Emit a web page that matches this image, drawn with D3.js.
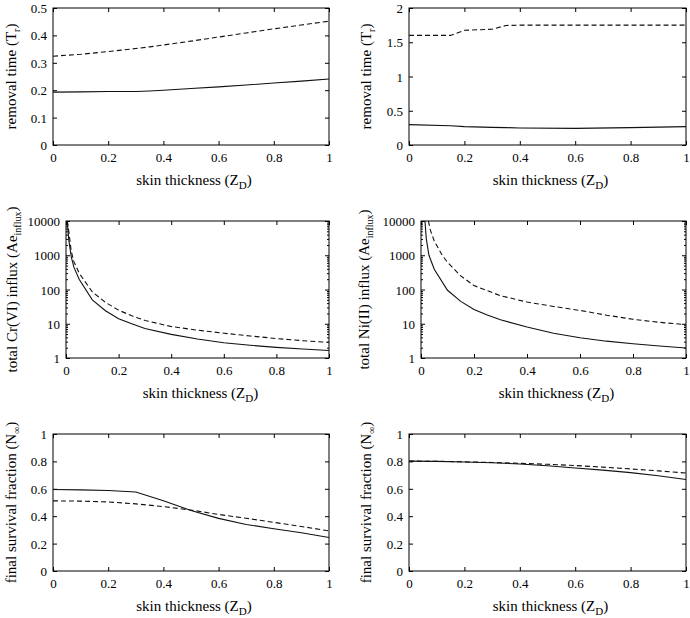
<!DOCTYPE html>
<html>
<head>
<meta charset="utf-8">
<script src="https://cdn.jsdelivr.net/npm/d3@7"></script>
<style>
  body { margin: 0; background: #fff; }
  svg { font-family: "Liberation Serif", "Times New Roman", serif; }
  .line { fill: none; stroke: #111; stroke-width: 1.1; }
  .dashed { stroke-dasharray: 5,3; }
  .tick line { stroke: #000; }
  .tick text { font-family: "Liberation Serif", "Times New Roman", serif; font-size: 13px; fill: #000; }
  .title { font-family: "Liberation Serif", "Times New Roman", serif; font-size: 15px; fill: #000; }
</style>
</head>
<body>
<div id="chart"></div>
<script>
// x positions (skin thickness Z_D)
var zLin = [0, 0.1, 0.2, 0.3, 0.35, 0.4, 0.5, 0.6, 0.7, 0.8, 0.9, 1];
var zStep = [0, 0.15, 0.2, 0.3, 0.35, 0.4, 0.6, 0.8, 1];
var zSurv = [0, 0.1, 0.2, 0.3, 0.4, 0.5, 0.6, 0.7, 0.8, 0.9, 1];
var zCrLog = [0.005, 0.01, 0.02, 0.03, 0.05, 0.1, 0.15, 0.2, 0.25, 0.3, 0.4, 0.5, 0.6, 0.7, 0.8, 0.9, 1];
var zNiSolid = [0.015, 0.02, 0.03, 0.05, 0.1, 0.15, 0.2, 0.25, 0.3, 0.4, 0.5, 0.6, 0.7, 0.8, 0.9, 1];
var zNiDashed = [0.028, 0.035, 0.05, 0.08, 0.1, 0.15, 0.2, 0.3, 0.4, 0.5, 0.6, 0.7, 0.8, 0.9, 1];

// removal time, Cr(VI)
var removalCrSolid = [0.193, 0.194, 0.195, 0.195, 0.197, 0.200, 0.206, 0.212, 0.219, 0.226, 0.233, 0.241];
var removalCrDashed = [0.324, 0.331, 0.341, 0.352, 0.358, 0.365, 0.379, 0.394, 0.409, 0.424, 0.438, 0.452];
// removal time, Ni(II)
var removalNiSolid = [0.297, 0.280, 0.268, 0.258, 0.254, 0.249, 0.243, 0.253, 0.268];
var removalNiDashed = [1.60, 1.60, 1.675, 1.69, 1.745, 1.75, 1.75, 1.75, 1.75];

// total influx (log scale)
var influxCrSolid = [10000, 3000, 900, 450, 200, 50, 24, 14, 10, 7.3, 4.9, 3.6, 2.8, 2.35, 2.04, 1.83, 1.66];
var influxCrDashed = [10000, 5500, 1300, 650, 300, 85, 42, 25, 17, 12.5, 8.3, 6.5, 5.3, 4.4, 3.7, 3.2, 2.85];
var influxNiSolid = [10000, 3000, 1000, 390, 95, 45, 26, 18, 13, 8, 5.3, 3.9, 3.1, 2.6, 2.25, 1.95];
var influxNiDashed = [10000, 5500, 2600, 1000, 620, 250, 130, 66, 43, 32, 24.5, 17.8, 13.5, 11, 9.4];

// final survival fraction
var survCrSolid = [0.595, 0.592, 0.588, 0.577, 0.513, 0.442, 0.384, 0.340, 0.308, 0.279, 0.245];
var survCrDashed = [0.512, 0.510, 0.504, 0.490, 0.470, 0.445, 0.413, 0.385, 0.355, 0.325, 0.293];
var survNiSolid = [0.802, 0.800, 0.796, 0.790, 0.781, 0.768, 0.752, 0.736, 0.718, 0.695, 0.668];
var survNiDashed = [0.802, 0.801, 0.797, 0.792, 0.786, 0.779, 0.770, 0.758, 0.745, 0.731, 0.715];

// tick values
var xTicks = [0, 0.2, 0.4, 0.6, 0.8, 1];
var removalCrTicks = [0, 0.1, 0.2, 0.3, 0.4, 0.5];
var removalNiTicks = [0, 0.5, 1, 1.5, 2];
var influxTicks = [1, 10, 100, 1000, 10000];
var survTicks = [0, 0.2, 0.4, 0.6, 0.8, 1];

var svg = d3.select("#chart").append("svg")
    .attr("width", 690)
    .attr("height", 618);

var panels = [
    {left: 53, right: 329, top: 8, bottom: 145, titleX: 16, yDomain: [0, 0.5], yTicks: removalCrTicks, log: false,
     ylabel: ["removal time (T", "r", ")"],
     series: [{x: zLin, y: removalCrSolid, dash: false}, {x: zLin, y: removalCrDashed, dash: true}]},
    {left: 409, right: 686, top: 8, bottom: 145, titleX: 371, yDomain: [0, 2], yTicks: removalNiTicks, log: false,
     ylabel: ["removal time (T", "r", ")"],
     series: [{x: zStep, y: removalNiSolid, dash: false}, {x: zStep, y: removalNiDashed, dash: true}]},
    {left: 66, right: 329, top: 221, bottom: 358, titleX: 17, yDomain: [1, 10000], yTicks: influxTicks, log: true,
     ylabel: ["total Cr(VI) influx (Ae", "influx", ")"],
     series: [{x: zCrLog, y: influxCrSolid, dash: false}, {x: zCrLog, y: influxCrDashed, dash: true}]},
    {left: 421, right: 686, top: 221, bottom: 358, titleX: 369, yDomain: [1, 10000], yTicks: influxTicks, log: true,
     ylabel: ["total Ni(II) influx (Ae", "influx", ")"],
     series: [{x: zNiSolid, y: influxNiSolid, dash: false}, {x: zNiDashed, y: influxNiDashed, dash: true}]},
    {left: 53, right: 329, top: 434, bottom: 571, titleX: 16, yDomain: [0, 1], yTicks: survTicks, log: false,
     ylabel: ["final survival fraction (N", "\u221E", ")"],
     series: [{x: zSurv, y: survCrSolid, dash: false}, {x: zSurv, y: survCrDashed, dash: true}]},
    {left: 409, right: 686, top: 434, bottom: 571, titleX: 371, yDomain: [0, 1], yTicks: survTicks, log: false,
     ylabel: ["final survival fraction (N", "\u221E", ")"],
     series: [{x: zSurv, y: survNiSolid, dash: false}, {x: zSurv, y: survNiDashed, dash: true}]}
];

panels.forEach(function(p) {
    var w = p.right - p.left, h = p.bottom - p.top;
    var g = svg.append("g").attr("transform", "translate(" + p.left + "," + p.top + ")");

    var x = d3.scaleLinear().domain([0, 1]).range([0, w]);
    var y = (p.log ? d3.scaleLog() : d3.scaleLinear()).domain(p.yDomain).range([h, 0]);
    var fmt = function(d) { return String(d); };

    // bottom axis, ticks inside
    g.append("g")
        .attr("transform", "translate(0," + h + ")")
        .call(d3.axisBottom(x).tickValues(xTicks).tickSize(-4).tickPadding(8).tickFormat(fmt))
        .call(function(a) { a.select(".domain").remove(); });
    // top mirror
    g.append("g")
        .call(d3.axisTop(x).tickValues(xTicks).tickSize(-4).tickFormat(""))
        .call(function(a) { a.select(".domain").remove(); });
    // left axis
    g.append("g")
        .call(d3.axisLeft(y).tickValues(p.yTicks).tickSize(-4).tickPadding(6).tickFormat(fmt))
        .call(function(a) { a.select(".domain").remove(); a.selectAll("text").attr("dy", "0.35em"); });
    // right mirror
    g.append("g")
        .attr("transform", "translate(" + w + ",0)")
        .call(d3.axisRight(y).tickValues(p.yTicks).tickSize(-4).tickFormat(""))
        .call(function(a) { a.select(".domain").remove(); });

    if (p.log) {
        var minor = y.ticks().filter(function(d) { return p.yTicks.indexOf(d) < 0; });
        g.append("g")
            .call(d3.axisLeft(y).tickValues(minor).tickSize(-2).tickFormat(""))
            .call(function(a) { a.select(".domain").remove(); });
        g.append("g")
            .attr("transform", "translate(" + w + ",0)")
            .call(d3.axisRight(y).tickValues(minor).tickSize(-2).tickFormat(""))
            .call(function(a) { a.select(".domain").remove(); });
    }

    // frame
    g.append("rect")
        .attr("width", w).attr("height", h)
        .attr("fill", "none").attr("stroke", "#000").attr("stroke-width", 1);

    // curves
    var line = d3.line()
        .x(function(d) { return x(d[0]); })
        .y(function(d) { return y(d[1]); });
    p.series.forEach(function(s) {
        g.append("path")
            .datum(d3.zip(s.x, s.y))
            .attr("class", s.dash ? "line dashed" : "line")
            .attr("d", line);
    });

    // x title
    var xt = g.append("text")
        .attr("class", "title")
        .attr("text-anchor", "middle")
        .attr("x", w / 2 + 3)
        .attr("y", h + 40);
    xt.append("tspan").text("skin thickness (Z");
    xt.append("tspan").attr("dy", 4).attr("font-size", "11px").text("D");
    xt.append("tspan").attr("dy", -4).text(")");

    // y title
    var yt = svg.append("text")
        .attr("class", "title")
        .attr("text-anchor", "middle")
        .attr("transform", "translate(" + p.titleX + "," + (p.top + h / 2) + ") rotate(-90)");
    yt.append("tspan").text(p.ylabel[0]);
    yt.append("tspan").attr("dy", 4).attr("font-size", "10px").text(p.ylabel[1]);
    yt.append("tspan").attr("dy", -4).text(p.ylabel[2]);
});
</script>
</body>
</html>
